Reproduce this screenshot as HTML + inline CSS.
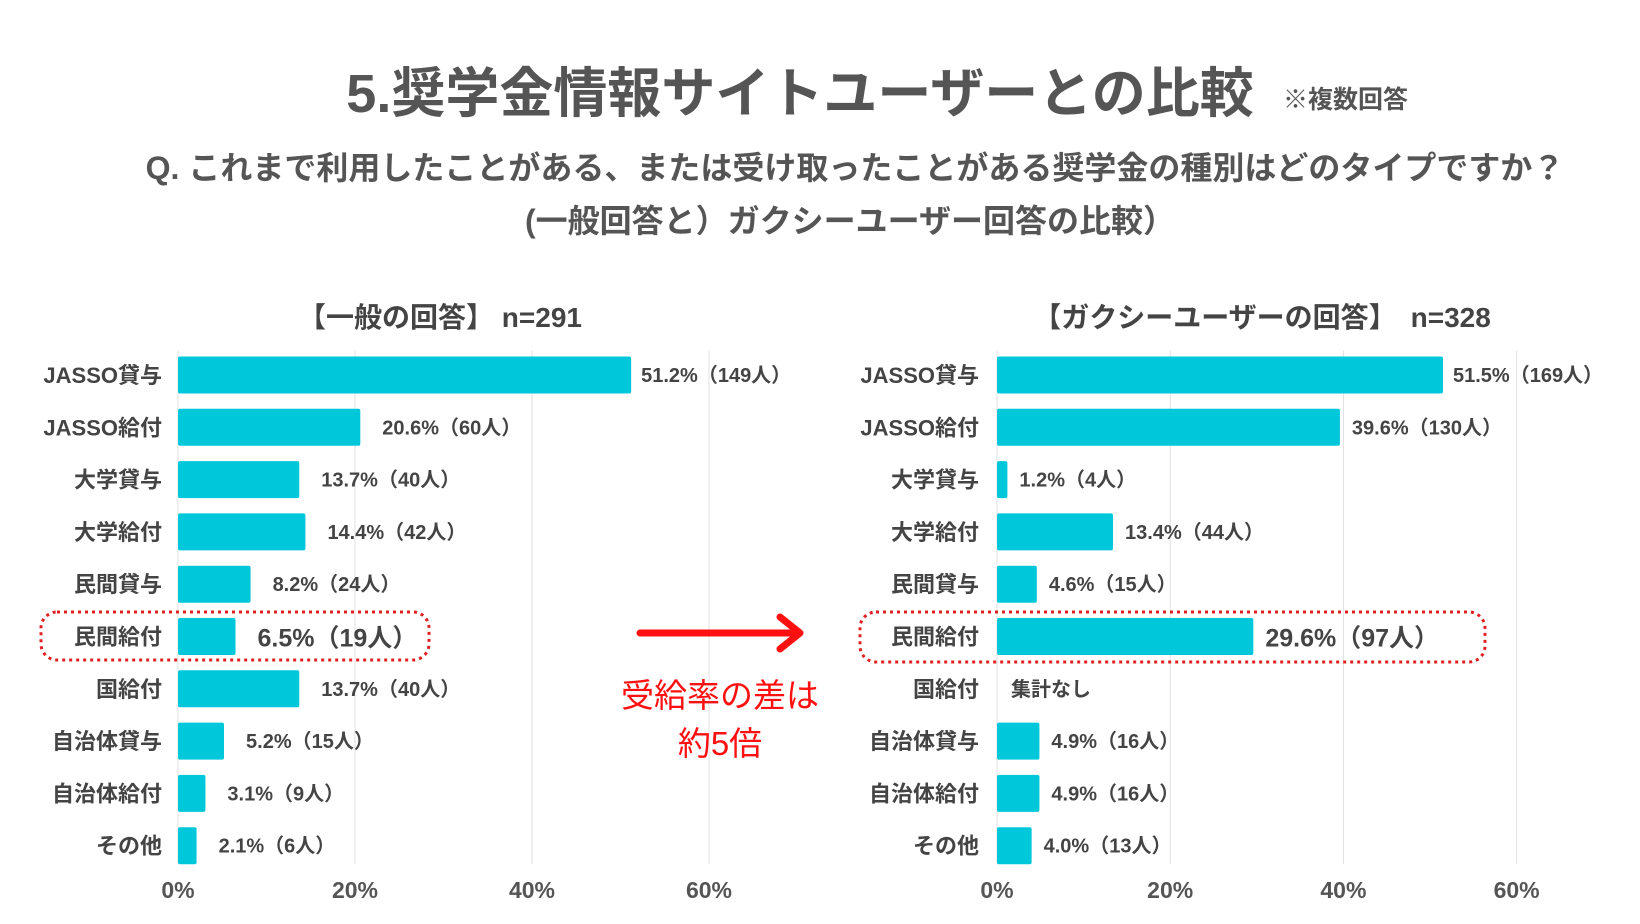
<!DOCTYPE html>
<html><head><meta charset="utf-8"><style>
body{margin:0;background:#fff;}
svg{display:block;font-family:"Liberation Sans","Noto Sans CJK JP",sans-serif;}
</style></head><body>
<svg id="c" width="1640" height="924" viewBox="0 0 1640 924">
<text x="800" y="112" text-anchor="middle" font-size="54" font-weight="bold" fill="#555">5.奨学金情報サイトユーザーとの比較</text>
<text x="1283" y="108" font-size="25" font-weight="bold" fill="#555">※複数回答</text>
<text x="855" y="179" text-anchor="middle" font-size="32" font-weight="bold" fill="#555">Q. これまで利用したことがある、または受け取ったことがある奨学金の種別はどのタイプですか？</text>
<text x="850" y="232" text-anchor="middle" font-size="32" font-weight="bold" fill="#555">(一般回答と）ガクシーユーザー回答の比較）</text>
<text x="440" y="327" text-anchor="middle" font-size="28" font-weight="bold" fill="#444">【一般の回答】 n=291</text>
<text x="1262" y="327" text-anchor="middle" font-size="28" font-weight="bold" fill="#444">【ガクシーユーザーの回答】　n=328</text>
<g id="L"></g><g id="R"></g>
<rect x="41" y="612" width="388" height="48" rx="16" fill="none" stroke="#e02020" stroke-width="3" stroke-dasharray="3 4"/>
<rect x="860" y="612" width="625" height="50" rx="16" fill="none" stroke="#e02020" stroke-width="3" stroke-dasharray="3 4"/>
<g>
<line x1="640" y1="633" x2="795" y2="633" stroke="#ff1010" stroke-width="7" stroke-linecap="round"/>
<polyline points="780,617 800,633 780,649" fill="none" stroke="#ff1010" stroke-width="7" stroke-linecap="round" stroke-linejoin="round"/>
</g>
<text x="720" y="707" text-anchor="middle" font-size="33" fill="#ff1010">受給率の差は</text>
<text x="720" y="755" text-anchor="middle" font-size="33" fill="#ff1010">約5倍</text>
</svg>
<script>
const categories=["JASSO貸与","JASSO給付","大学貸与","大学給付","民間貸与","民間給付","国給付","自治体貸与","自治体給付","その他"];
const generalValues=[51.2,20.6,13.7,14.4,8.2,6.5,13.7,5.2,3.1,2.1];
const generalCounts=[149,60,40,42,24,19,40,15,9,6];
const userValues=[51.5,39.6,1.2,13.4,4.6,29.6,null,4.9,4.9,4.0];
const userCounts=[169,130,4,44,15,97,null,16,16,13];
const ticks=[0,20,40,60];
const NS="http://www.w3.org/2000/svg";
function mk(p,t,a,txt){const e=document.createElementNS(NS,t);for(const k in a)e.setAttribute(k,a[k]);if(txt!=null)e.textContent=txt;p.appendChild(e);return e;}
function draw(gid,x0,pxPer,labelX,vals,cnts,gap){
  const g=document.getElementById(gid);
  const xs=v=>x0+v*pxPer;
  const top=356.5,pitch=52.3,bh=37;
  ticks.forEach(t=>{
    const l=mk(g,'line',{x1:xs(t),x2:xs(t),y1:top-6,y2:top+9*pitch+bh,stroke:'#e0e0e0','stroke-width':1});
    
    
    const tx=mk(g,'text',{x:xs(t),y:898,'text-anchor':'middle','font-size':23,'font-weight':'bold',fill:'#555'},t+'%');
    
    
  });
  categories.forEach((c,i)=>{
    const y=top+i*pitch;
    const cl=mk(g,'text',{x:labelX,y:y+bh/2+8,'text-anchor':'end','font-size':22,'font-weight':'bold',fill:'#444'},c);
    
    
    const v=vals[i];
    const big=i===5;
    if(v==null){
      const n=mk(g,'text',{x:x0+14,y:y+bh/2+7,'font-size':20,'font-weight':'bold',fill:'#444'},'集計なし');
      
      
      return;
    }
    const b=mk(g,'rect',{x:x0,y:y,width:xs(v)-x0,height:bh,rx:2,fill:'#00c8da'});
    
    
    const gp=(i===0?10:gap);
    const vl=mk(g,'text',{x:xs(v)+gp,y:y+bh/2+(big?10:7),'font-size':big?25:20,'font-weight':'bold',fill:'#444'},v.toFixed(1)+'%（'+cnts[i]+'人）');
    
    
  });
}
draw('L',178,8.85,162,generalValues,generalCounts,22);
draw('R',997,8.66,979,userValues,userCounts,12);
</script>
</body></html>
